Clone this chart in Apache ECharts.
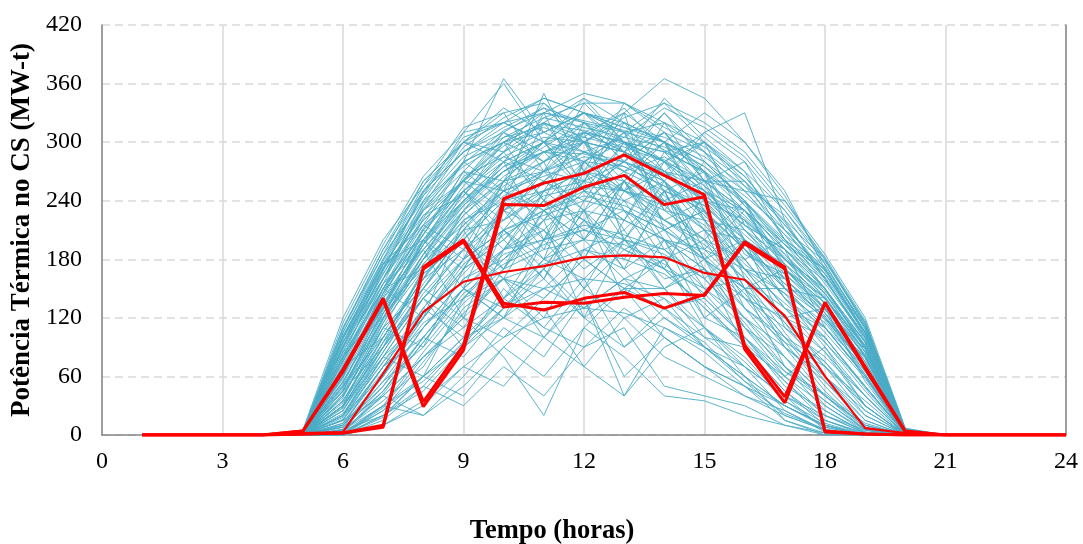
<!DOCTYPE html>
<html>
<head>
<meta charset="utf-8">
<script src="https://cdn.jsdelivr.net/npm/echarts@6/dist/echarts.min.js"></script>
<style>html,body{margin:0;padding:0;background:#fff}#c{width:1083px;height:544px}</style>
</head>
<body>
<div id="c"></div>
<script>
// Hours for red (highlighted) profiles
const hours = [1,2,3,4,5,6,7,8,9,10,11,12,13,14,15,16,17,18,19,20,21,22,23,24];
// Hours for the blue daily profiles (h4 .. h21)
const blueHours = [4,5,6,7,8,9,10,11,12,13,14,15,16,17,18,19,20,21];

const xTicks = [0,3,6,9,12,15,18,21,24];
const yTicks = [0,60,120,180,240,300,360,420];

// Highlighted profiles (MW-t)
const redA1 = [0,0,0,0,4,67,140,34,92,242,258,268,287,266,246,92,39,136,70,4,0,0,0,0];
const redA2 = [0,0,0,0,4,65,138,29,87,236,235,254,266,236,244,88,33,135,68,3,0,0,0,0];
const redB1 = [0,0,0,0,1,2,10,172,200,135,128,140,146,130,144,198,172,4,1,0,0,0,0,0];
const redB2 = [0,0,0,0,1,2,8,170,198,131,136,135,141,145,143,196,170,3,1,0,0,0,0,0];
const redMean = [0,0,0,0,2,3,63,126,157,167,173,182,184,182,166,159,122,60,7,2,0,0,0,0];

// Daily profiles (MW-t), hours 4..21
const d01 = [0,4,110,185,240,275,300,310,330,320,300,280,240,195,170,110,5,0];
const d02 = [0,3,95,170,225,260,290,320,305,335,290,300,255,210,160,100,4,0];
const d03 = [0,5,120,200,255,300,320,345,330,310,340,300,260,220,180,115,6,0];
const d04 = [0,2,80,150,210,250,280,300,290,270,285,260,230,180,150,90,3,0];
const d05 = [0,0,40,110,180,230,260,270,290,280,265,240,200,150,110,60,1,0];
const d06 = [0,0,20,90,150,200,240,250,260,250,240,215,170,120,70,20,0,0];
const d07 = [0,0,10,70,130,180,210,230,250,240,220,190,150,100,50,8,0,0];
const d08 = [0,0,5,50,110,160,190,220,230,220,200,170,130,80,30,3,0,0];
const d09 = [0,3,100,175,200,150,240,280,200,260,300,230,180,200,150,95,4,0];
const d10 = [0,2,85,120,180,250,200,160,240,300,260,180,220,160,120,80,3,0];
const d11 = [0,0,60,140,190,120,210,260,300,230,170,250,190,140,100,50,2,0];
const d12 = [0,1,70,100,160,230,280,200,150,220,290,270,160,120,130,70,2,0];
const d13 = [0,0,30,80,60,140,180,220,120,200,250,180,110,60,90,30,0,0];
const d14 = [0,0,25,90,140,90,150,110,160,90,130,100,70,40,20,5,0,0];
const d15 = [0,0,15,40,80,120,100,140,180,150,100,70,50,30,10,0,0,0];
const d16 = [0,0,0,20,60,100,140,180,160,200,170,130,90,40,5,0,0,0];
const d17 = [0,0,5,30,20,50,90,60,110,80,40,35,20,10,2,0,0,0];
const d18 = [0,2,90,160,240,300,330,270,340,300,260,310,280,230,175,110,5,0];
const d19 = [0,3,115,195,265,310,360,300,280,250,320,290,250,240,185,120,7,0];
const d20 = [0,1,75,150,200,240,270,295,320,310,300,270,210,170,140,85,3,0];
const d21 = [0,0,50,120,175,220,250,265,280,275,255,235,200,160,120,65,2,0];
const d22 = [0,0,35,100,160,215,255,280,300,290,270,230,190,140,90,40,1,0];
const d23 = [0,0,20,85,145,190,230,250,270,260,240,210,165,115,60,15,0,0];
const d24 = [0,0,8,60,120,175,205,230,245,235,215,180,140,90,40,5,0,0];
const d25 = [0,0,3,45,100,150,185,200,215,205,190,160,120,70,25,2,0,0];
const d26 = [0,0,0,30,85,135,170,190,200,195,175,145,100,55,15,0,0,0];
const d27 = [0,2,80,130,210,180,260,330,250,300,230,280,240,150,140,90,3,0];
const d28 = [0,1,60,150,120,220,170,250,310,200,260,190,230,190,110,70,2,0];
const d29 = [0,0,45,90,170,210,140,200,260,330,210,230,150,170,130,55,1,0];
const d30 = [0,0,30,110,90,170,230,180,220,170,250,160,200,110,80,40,0,0];
const d31 = [0,0,20,60,130,100,190,240,180,260,190,210,130,100,60,25,0,0];
const d32 = [0,0,10,50,100,150,120,170,230,140,200,120,150,70,40,10,0,0];
const d33 = [0,0,5,35,70,130,160,120,190,210,150,170,90,60,20,2,0,0];
const d34 = [0,0,0,20,45,90,130,160,120,150,180,110,80,35,8,0,0,0];
const d35 = [0,0,2,25,60,40,90,130,70,120,80,60,40,20,5,0,0,0];
const d36 = [0,0,0,10,30,70,50,100,140,40,90,110,60,15,2,0,0,0];
const d37 = [0,4,110,190,250,290,320,330,350,340,320,300,270,230,180,115,6,0];
const d38 = [0,3,105,180,255,315,330,340,300,330,365,345,300,250,170,105,5,0];
const d39 = [0,2,90,165,235,280,365,310,330,300,280,310,330,220,160,100,4,0];
const d40 = [0,2,100,170,220,260,250,350,270,340,310,260,280,210,165,105,4,0];
const d41 = [0,1,70,140,200,255,300,280,310,290,330,280,240,190,150,90,3,0];
const d42 = [0,0,55,125,185,240,280,300,260,320,300,250,220,180,135,75,2,0];
const d43 = [0,0,40,115,170,225,265,290,310,300,280,260,230,170,125,70,1,0];
const d44 = [0,1,65,135,195,245,290,310,330,315,300,275,235,185,145,85,2,0];
const d45 = [0,0,45,120,180,235,275,290,305,295,280,250,210,165,125,68,2,0];
const d46 = [0,0,25,95,155,205,245,270,285,280,260,225,180,130,85,30,0,0];
const d47 = [0,0,15,80,140,190,220,245,255,250,235,200,160,105,55,10,0,0];
const d48 = [0,0,12,70,125,165,210,225,240,230,210,185,145,95,45,6,0,0];
const d49 = [0,2,85,160,215,250,220,270,230,290,250,270,200,175,140,80,3,0];
const d50 = [0,1,70,130,170,220,240,200,280,250,220,240,190,150,120,70,2,0];
const d51 = [0,0,40,110,150,200,170,230,200,260,200,190,170,120,100,50,1,0];
const d52 = [0,0,30,90,140,180,210,160,220,180,240,170,140,110,70,35,0,0];
const d53 = [0,0,15,70,110,160,180,210,150,190,170,150,120,80,40,10,0,0];
const d54 = [0,0,10,55,90,140,160,150,190,170,130,140,100,60,30,5,0,0];
const d55 = [0,0,5,40,80,110,140,170,130,160,150,100,90,45,15,1,0,0];
const d56 = [0,0,2,30,60,90,120,100,150,120,140,90,60,30,10,0,0,0];
const d57 = [0,3,95,175,230,280,300,240,320,280,330,290,260,200,170,105,5,0];
const d58 = [0,2,100,160,230,260,310,290,250,280,310,260,250,205,155,100,4,0];
const d59 = [0,1,75,155,205,270,240,320,300,250,270,300,215,190,145,95,3,0];
const d60 = [0,0,50,100,160,190,230,260,240,270,220,200,180,130,110,60,1,0];
const d61 = [0,0,35,105,165,200,250,220,280,240,260,220,170,145,95,50,1,0];
const d62 = [0,0,20,75,120,170,200,240,210,230,200,180,150,100,75,25,0,0];
const d63 = [0,0,8,45,95,145,175,195,210,200,185,160,115,65,35,5,0,0];
const d64 = [0,0,0,25,75,125,160,175,190,180,165,135,90,45,10,0,0,0];
const d65 = [0,0,0,15,50,95,130,150,160,155,140,110,70,25,3,0,0,0];
const d66 = [0,0,0,10,35,70,100,120,130,125,110,85,50,15,0,0,0,0];
const d67 = [0,0,3,40,20,60,110,80,140,60,100,70,40,25,5,0,0,0];
const d68 = [0,0,5,20,50,30,70,40,90,110,50,40,30,10,0,0,0,0];
const d69 = [0,2,90,175,245,290,315,335,300,325,340,320,290,240,180,112,5,0];
const d70 = [0,1,80,170,250,305,320,300,345,320,300,330,300,245,175,108,4,0];
const d71 = [0,3,105,185,260,300,280,325,340,340,315,295,265,215,165,110,5,0];
const d72 = [0,0,60,145,205,270,310,335,320,290,345,305,270,200,150,95,3,0];
const d73 = [0,0,30,90,150,120,80,20,110,150,130,90,60,30,10,0,0,0];
const d74 = [0,0,20,80,140,190,160,100,70,40,110,90,70,40,15,2,0,0];
const d75 = [0,3,100,180,250,290,310,280,320,300,290,270,240,200,165,105,4,0];
const d76 = [0,2,95,165,230,270,260,300,330,290,270,250,215,190,150,95,3,0];
const d77 = [0,1,85,160,220,260,300,320,270,310,280,240,230,175,140,92,3,0];
const d78 = [0,0,60,150,215,280,250,290,300,260,300,255,200,170,135,80,2,0];
const d79 = [0,0,45,130,200,250,290,240,280,310,250,230,190,160,120,70,1,0];
const d80 = [0,0,30,115,185,230,270,300,250,280,260,210,200,150,110,60,1,0];
const d81 = [0,1,70,145,210,260,230,270,310,290,240,260,185,165,130,82,2,0];
const d82 = [0,2,88,155,190,240,280,260,290,270,300,220,210,180,145,88,3,0];
const d83 = [0,0,55,125,180,215,250,230,270,250,230,220,175,145,115,65,1,0];
const d84 = [0,0,35,100,165,200,240,260,230,260,220,195,160,130,95,45,0,0];
const d85 = [0,0,25,85,150,210,220,250,270,230,210,180,150,115,75,30,0,0];
const d86 = [0,0,18,75,130,180,230,210,250,220,200,170,120,90,55,15,0,0];
const d87 = [0,0,12,65,120,170,200,240,220,200,190,150,110,70,35,6,0,0];
const d88 = [0,0,6,55,110,150,190,200,210,190,170,130,95,55,20,2,0,0];
const d89 = [0,3,108,190,260,300,290,340,310,330,300,280,250,205,172,112,5,0];
const d90 = [0,2,98,178,245,310,320,300,330,310,320,260,260,215,168,106,4,0];
const d91 = [0,1,82,150,225,245,300,330,320,280,310,290,235,195,160,98,3,0];
const d92 = [0,0,58,135,195,265,285,270,300,320,270,240,220,185,140,85,2,0];
const d93 = [0,0,48,128,190,235,270,290,280,300,290,245,215,175,130,75,2,0];
const d94 = [0,0,38,118,175,225,260,280,300,270,250,235,195,155,118,62,1,0];
const d95 = [0,0,28,100,160,210,250,270,260,280,245,210,170,135,100,48,1,0];
const d96 = [0,1,72,150,170,230,190,250,220,260,210,230,170,160,125,78,2,0];
const d97 = [0,0,50,120,200,170,240,190,270,210,250,180,200,140,110,62,1,0];
const d98 = [0,0,33,95,170,200,160,230,200,240,180,200,140,120,85,40,0,0];
const d99 = [0,0,22,80,120,180,210,170,230,190,210,150,160,90,60,20,0,0];
const d100 = [0,0,10,60,115,140,190,210,170,200,160,170,110,80,40,8,0,0];
const d101 = [0,0,4,42,95,150,130,180,200,160,180,120,100,50,25,3,0,0];
const d102 = [0,0,0,28,80,120,160,140,180,150,150,110,75,35,12,0,0,0];
const d103 = [0,0,0,18,60,100,120,150,130,160,120,90,55,20,5,0,0,0];
const d104 = [0,0,2,30,55,95,140,110,90,130,100,70,50,22,6,0,0,0];
const d105 = [0,0,8,45,100,80,130,170,120,90,120,95,55,30,8,0,0,0];
const d106 = [0,2,92,172,238,285,305,325,315,305,295,275,245,210,178,114,6,0];
const d107 = [0,1,78,160,232,278,312,330,322,312,292,268,238,198,162,104,4,0];
const d108 = [0,0,62,142,212,262,296,318,312,298,282,255,222,182,148,92,3,0];
const d109 = [0,0,52,132,198,250,285,305,300,290,268,242,205,170,135,80,2,0];
const d110 = [0,0,42,120,185,238,270,290,288,275,255,228,190,155,122,70,1,0];
const d111 = [0,3,102,176,215,190,260,300,250,220,280,250,230,190,158,102,4,0];
const d112 = [0,1,80,130,195,250,210,180,280,310,230,200,240,170,128,88,3,0];
const d113 = [0,0,40,110,150,210,260,230,180,250,280,220,150,150,105,58,1,0];
const d114 = [0,0,28,95,140,110,170,220,260,200,150,180,130,95,70,30,0,0];
const d115 = [0,0,16,70,100,150,120,200,230,170,200,140,100,65,42,12,0,0];
const d116 = [0,2,90,168,248,300,335,310,290,305,335,315,285,235,182,117,6,0];
const d117 = [0,1,76,155,235,295,325,345,330,315,305,285,255,225,170,102,4,0];
const d118 = [0,0,66,146,222,280,300,320,345,300,280,300,265,218,160,96,3,0];
const d119 = [0,0,54,134,206,260,305,315,300,290,310,270,230,195,150,88,2,0];
const d120 = [0,0,46,124,195,240,275,300,310,300,270,260,225,180,142,82,2,0];

const days = [d01,d02,d03,d04,d05,d06,d07,d08,d09,d10,d11,d12,d13,d14,d15,d16,d17,d18,d19,d20,
  d21,d22,d23,d24,d25,d26,d27,d28,d29,d30,d31,d32,d33,d34,d35,d36,d37,d38,d39,d40,
  d41,d42,d43,d44,d45,d46,d47,d48,d49,d50,d51,d52,d53,d54,d55,d56,d57,d58,d59,d60,
  d61,d62,d63,d64,d65,d66,d67,d68,d69,d70,d71,d72,d73,d74,d75,d76,d77,d78,d79,d80,
  d81,d82,d83,d84,d85,d86,d87,d88,d89,d90,d91,d92,d93,d94,d95,d96,d97,d98,d99,d100,
  d101,d102,d103,d104,d105,d106,d107,d108,d109,d110,d111,d112,d113,d114,d115,d116,d117,d118,d119,d120];
const reds = [
  {data: redMean, w: 2.2},
  {data: redA1, w: 3}, {data: redA2, w: 3},
  {data: redB1, w: 3}, {data: redB2, w: 3}
];

const FONT = '"Liberation Serif", "Times New Roman", serif';
const series = [];
days.forEach(d => {
  series.push({
    type: 'line', silent: true, symbol: 'none', animation: false,
    data: blueHours.map((h, i) => [h, d[i]]),
    lineStyle: {color: '#4BACC6', width: 0.9}
  });
});
reds.forEach(r => {
  series.push({
    type: 'line', silent: true, symbol: 'none', animation: false,
    data: hours.map((h, i) => [h, r.data[i]]),
    lineStyle: {color: '#FF0000', width: r.w}, z: 5
  });
});

const chart = echarts.init(document.getElementById('c'));
chart.setOption({
  animation: false,
  grid: {left: 102, right: 17, top: 25, bottom: 109, containLabel: false, outerBoundsMode: 'none'},
  xAxis: {
    type: 'value', min: 0, max: 24, interval: 3,
    name: 'Tempo (horas)', nameLocation: 'middle', nameGap: 83,
    nameTextStyle: {fontFamily: FONT, fontSize: 26.5, fontWeight: 'bold', color: '#000', padding: [0, 64, 0, 0]},
    axisLine: {show: true, lineStyle: {color: '#868686', width: 1.5}},
    axisTick: {show: false},
    axisLabel: {fontFamily: FONT, fontSize: 24, color: '#000', margin: 15,
      formatter: v => xTicks.includes(v) ? String(v) : ''},
    splitLine: {show: true, lineStyle: {color: '#D9D9D9', width: 1.5}}
  },
  yAxis: [{
    type: 'value', min: 0, max: 420, interval: 60,
    name: 'Potência Térmica no CS (MW-t)', nameLocation: 'middle', nameGap: 66,
    nameTextStyle: {fontFamily: FONT, fontSize: 27, fontWeight: 'bold', color: '#000'},
    axisLine: {show: true, lineStyle: {color: '#868686', width: 1.5}},
    axisTick: {show: false},
    axisLabel: {fontFamily: FONT, fontSize: 24, color: '#000', margin: 20,
      formatter: v => yTicks.includes(v) ? String(v) : ''},
    splitLine: {show: true, lineStyle: {color: '#D9D9D9', width: 1.5, type: [8, 5]}}
  }, {
    type: 'value', min: 0, max: 420, interval: 60, position: 'right',
    axisLine: {show: true, lineStyle: {color: '#868686', width: 1.5}},
    axisTick: {show: false}, axisLabel: {show: false}, splitLine: {show: false}
  }],
  series: series
});
</script>
</body>
</html>
